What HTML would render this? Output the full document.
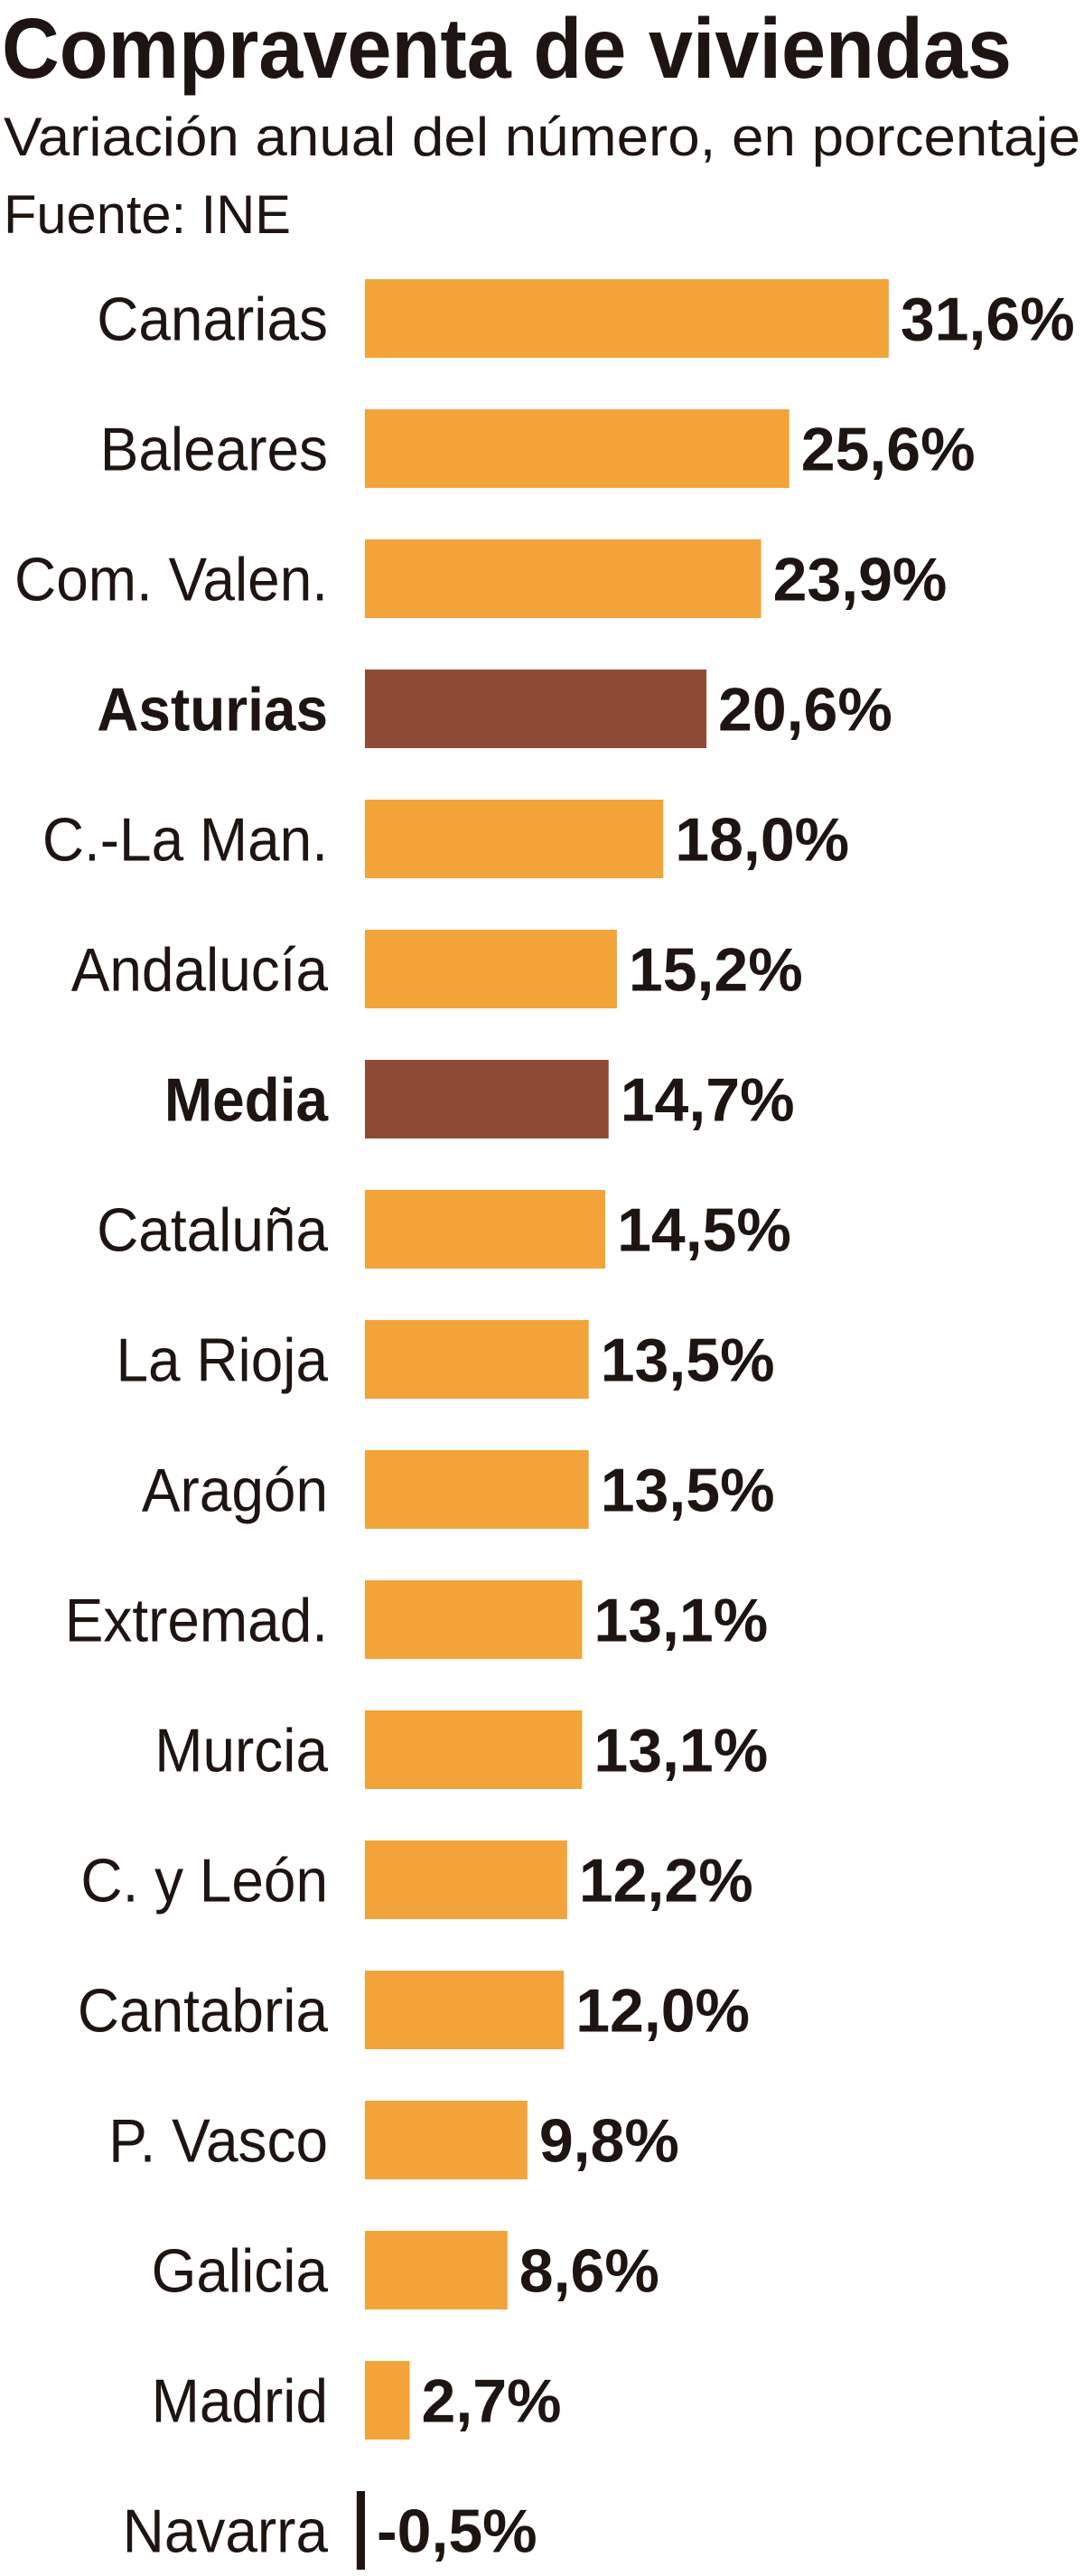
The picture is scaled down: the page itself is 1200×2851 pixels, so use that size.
<!DOCTYPE html>
<html><head><meta charset="utf-8"><style>
html,body{margin:0;padding:0;background:#fff;width:1200px;height:2851px;overflow:hidden}
svg{display:block}
</style></head><body>
<svg id="chart" width="1200" height="2851" viewBox="0 0 1200 2851" xmlns="http://www.w3.org/2000/svg">
<text x="2" y="86" font-family="Liberation Sans, sans-serif" font-weight="bold" font-size="95" fill="#1e1512" textLength="1118" lengthAdjust="spacingAndGlyphs">Compraventa de viviendas</text>
<text x="4" y="172" font-family="Liberation Sans, sans-serif" font-size="60" fill="#1e1512" textLength="1192" lengthAdjust="spacingAndGlyphs">Variación anual del número, en porcentaje</text>
<text x="4" y="258" font-family="Liberation Sans, sans-serif" font-size="60" fill="#1e1512" textLength="318" lengthAdjust="spacingAndGlyphs">Fuente: INE</text>
<g id="bars"></g>
</svg>
<script>
const categories = ["Canarias","Baleares","Com. Valen.","Asturias","C.-La Man.","Andalucía","Media","Cataluña","La Rioja","Aragón","Extremad.","Murcia","C. y León","Cantabria","P. Vasco","Galicia","Madrid","Navarra"];
const values = [31.6,25.6,23.9,20.6,18.0,15.2,14.7,14.5,13.5,13.5,13.1,13.1,12.2,12.0,9.8,8.6,2.7,-0.5];
const valueLabels = ["31,6%","25,6%","23,9%","20,6%","18,0%","15,2%","14,7%","14,5%","13,5%","13,5%","13,1%","13,1%","12,2%","12,0%","9,8%","8,6%","2,7%","-0,5%"];
const highlighted = ["Asturias","Media"];

const NS = "http://www.w3.org/2000/svg";
const x0 = 404, pxPerUnit = 18.35;
const top0 = 309, pitch = 144, barH = 87;
const xScale = v => x0 + v * pxPerUnit;
const yScale = i => top0 + i * pitch;
const g = document.getElementById("bars");

categories.forEach((cat, i) => {
  const v = values[i];
  const y = yScale(i);
  const hl = highlighted.includes(cat);
  const rect = document.createElementNS(NS, "rect");
  
  
  let rx, rw, fill;
  if (v >= 0) { rx = xScale(0); rw = xScale(v) - xScale(0); fill = hl ? "#8e4a35" : "#f2a33a"; }
  else { rw = Math.max(5, xScale(0) - xScale(v)); rx = xScale(0) - rw; fill = "#1e1512"; }
  rect.setAttribute("x", rx); rect.setAttribute("y", y);
  rect.setAttribute("width", rw); rect.setAttribute("height", barH);
  rect.setAttribute("fill", fill);
  g.appendChild(rect);

  const lg = document.createElementNS(NS, "g");
  lg.setAttribute("transform", `translate(363,${y + barH/2 + 24}) scale(0.94,1)`);
  const lab = document.createElementNS(NS, "text");
  
  
  lab.setAttribute("text-anchor", "end");
  lab.setAttribute("font-family", "Liberation Sans, sans-serif");
  lab.setAttribute("font-size", "68");
  if (hl) lab.setAttribute("font-weight", "bold");
  lab.setAttribute("fill", "#1e1512");
  lab.textContent = cat;
  lg.appendChild(lab);
  g.appendChild(lg);

  const val = document.createElementNS(NS, "text");
  
  
  val.setAttribute("x", Math.max(xScale(v), xScale(0)) + 13);
  val.setAttribute("y", y + barH/2 + 24);
  val.setAttribute("font-family", "Liberation Sans, sans-serif");
  val.setAttribute("font-weight", "bold");
  val.setAttribute("font-size", "68");
  val.setAttribute("fill", "#1e1512");
  val.textContent = valueLabels[i];
  g.appendChild(val);
});
</script>
</body></html>
